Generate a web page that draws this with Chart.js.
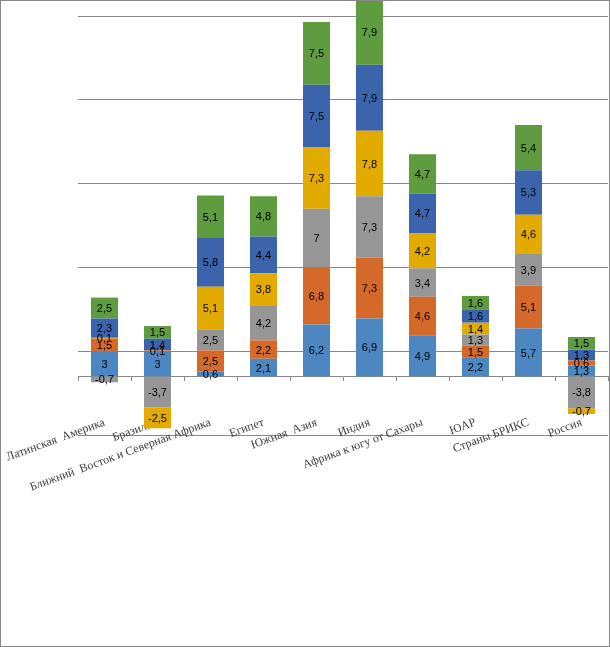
<!DOCTYPE html>
<html>
<head>
<meta charset="utf-8">
<script src="https://cdn.jsdelivr.net/npm/chart.js@4.4.1/dist/chart.umd.min.js"></script>
<style>
  html, body { margin: 0; padding: 0; background: #fff; }
  #wrap { position: absolute; left: 0; top: 0; width: 610px; height: 647px; border: 1px solid #888; box-sizing: border-box; background: #fff; }
  canvas { display: block; }
</style>
</head>
<body>
<div id="wrap"><canvas id="c" width="608" height="645"></canvas></div>
<script>
const categories = ["Латинская  Америка", "Бразилия", "Ближний  Восток и Северная Африка", "Египет", "Южная  Азия", "Индия", "Африка к югу от Сахары", "ЮАР", "Страны БРИКС", "Россия"];
const series1 = [3, 3, 0.6, 2.1, 6.2, 6.9, 4.9, 2.2, 5.7, 1.3];
const series2 = [1.5, 0.1, 2.5, 2.2, 6.8, 7.3, 4.6, 1.5, 5.1, 0.6];
const series3 = [-0.7, -3.7, 2.5, 4.2, 7, 7.3, 3.4, 1.3, 3.9, -3.8];
const series4 = [0.1, -2.5, 5.1, 3.8, 7.3, 7.8, 4.2, 1.4, 4.6, -0.7];
const series5 = [2.3, 1.4, 5.8, 4.4, 7.5, 7.9, 4.7, 1.6, 5.3, 1.3];
const series6 = [2.5, 1.5, 5.1, 4.8, 7.5, 7.9, 4.7, 1.6, 5.4, 1.5];
const gridValues = [-7, 3, 13, 23, 33, 43];
const yMin = -7;
const yMax = 44.8;

const colors = ["#4d87c1", "#d5692a", "#969696", "#e3ab00", "#3b64ad", "#5f9b3f"];
const allSeries = [series1, series2, series3, series4, series5, series6];

const valueLabels = {
  id: 'valueLabels',
  afterDatasetsDraw(chart) {
    const ctx = chart.ctx;
    ctx.save();
    ctx.font = '11px "Liberation Sans", Arial, sans-serif';
    ctx.fillStyle = '#000';
    ctx.textAlign = 'center';
    ctx.textBaseline = 'middle';
    chart.data.datasets.forEach((ds, di) => {
      const meta = chart.getDatasetMeta(di);
      meta.data.forEach((el, i) => {
        const v = ds.data[i];
        const p = el.getProps(['x', 'y', 'base'], true);
        const cy = (p.y + p.base) / 2;
        ctx.fillText(String(v).replace('.', ','), p.x, cy + 1);
      });
    });
    ctx.restore();
  }
};

new Chart(document.getElementById('c'), {
  type: 'bar',
  data: {
    labels: categories,
    datasets: allSeries.map((s, i) => ({
      data: s,
      backgroundColor: colors[i],
      borderWidth: 0,
      categoryPercentage: 1,
      barPercentage: 0.51
    }))
  },
  options: {
    responsive: false,
    animation: false,
    events: [],
    layout: { padding: { left: 77, right: 1, top: 0, bottom: 211 } },
    plugins: { legend: { display: false }, tooltip: { enabled: false } },
    scales: {
      x: {
        stacked: true,
        position: { y: 0 },
        grid: { display: true, drawOnChartArea: false, drawTicks: true, tickLength: 4, color: '#898989', offset: true },
        border: { display: true, color: '#898989', width: 1 },
        ticks: {
          autoSkip: false, minRotation: 20, maxRotation: 20, padding: 35,
          color: '#404040',
          font: { family: '"Liberation Serif", "Times New Roman", serif', size: 12 }
        },
        afterFit(s) { s.paddingLeft = 0; s.paddingRight = 0; }
      },
      y: {
        stacked: true,
        min: yMin,
        max: yMax,
        grid: { color: '#898989', lineWidth: 1, drawTicks: false },
        border: { display: false },
        ticks: { display: false },
        afterBuildTicks(s) { s.ticks = gridValues.map(v => ({ value: v })); },
        afterFit(s) { s.width = 0; }
      }
    }
  },
  plugins: [valueLabels]
});
</script>
</body>
</html>
